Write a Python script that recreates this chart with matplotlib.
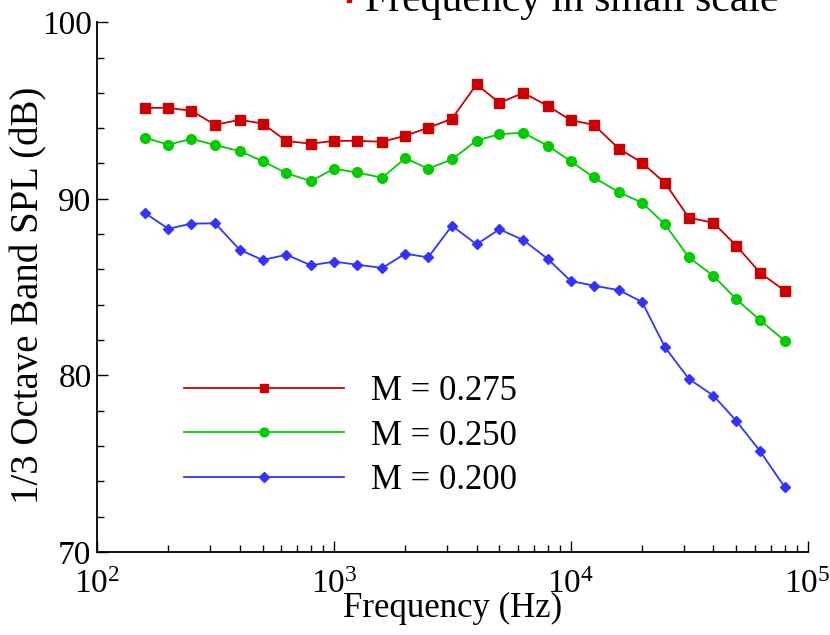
import numpy as np
import matplotlib
matplotlib.use('Agg')
import matplotlib.pyplot as plt
from matplotlib.lines import Line2D
from matplotlib.ticker import LogLocator, MultipleLocator, NullFormatter

plt.rcParams['font.family'] = ['Liberation Serif', 'DejaVu Serif']
plt.rcParams['mathtext.fontset'] = 'custom'
plt.rcParams['mathtext.rm'] = 'Liberation Serif'
plt.rcParams['mathtext.it'] = 'Liberation Serif:italic'

# 1/3-октавные полосы, Гц
freq = [160, 200, 250, 315, 400, 500, 630, 800, 1000, 1250, 1600, 2000, 2500,
        3150, 4000, 5000, 6300, 8000, 10000, 12500, 16000, 20000, 25000,
        31500, 40000, 50000, 63000, 80000]

# Уровни SPL, дБ
spl_m275 = [95.15, 95.15, 94.98, 94.19, 94.47, 94.26, 93.27, 93.12, 93.28,
            93.28, 93.23, 93.57, 94.02, 94.53, 96.48, 95.43, 96.0, 95.26,
            94.45, 94.19, 92.83, 92.04, 90.89, 88.93, 88.64, 87.34, 85.81, 84.79]
spl_m250 = [93.45, 93.06, 93.40, 93.04, 92.70, 92.13, 91.45, 91.00, 91.70,
            91.49, 91.19, 92.30, 91.70, 92.23, 93.30, 93.66, 93.74, 93.00,
            92.13, 91.21, 90.36, 89.78, 88.55, 86.68, 85.64, 84.31, 83.12, 81.96]
spl_m200 = [89.17, 88.30, 88.59, 88.61, 87.11, 86.53, 86.83, 86.23, 86.44,
            86.27, 86.08, 86.89, 86.68, 88.47, 87.42, 88.27, 87.66, 86.59,
            85.34, 85.08, 84.82, 84.15, 81.59, 79.80, 78.85, 77.42, 75.70, 73.67]

fig = plt.figure(figsize=(8.3, 6.35), dpi=100)
ax = fig.add_axes([0.117, 0.131, 0.856, 0.834])

ax.plot(freq, spl_m275, color='#cc0000', lw=1.3, marker='s', ms=6.5,
        label='M = 0.275')
ax.plot(freq, spl_m250, color='#00cc00', lw=1.3, marker='o', ms=7,
        label='M = 0.250')
ax.plot(freq, spl_m200, color='#3333ff', lw=1.3, marker='D', ms=5.5,
        label='M = 0.200')

ax.set_xscale('log')
ax.set_xlim(1e2, 1e5)
ax.set_ylim(70, 100)
ax.xaxis.set_major_locator(LogLocator(base=10, numticks=10))
ax.xaxis.set_minor_locator(LogLocator(base=10, subs=np.arange(2, 10), numticks=10))
ax.xaxis.set_minor_formatter(NullFormatter())
ax.yaxis.set_major_locator(MultipleLocator(10))
ax.yaxis.set_minor_locator(MultipleLocator(2))

for s in ['top', 'right']:
    ax.spines[s].set_visible(False)
for s in ['left', 'bottom']:
    ax.spines[s].set_linewidth(1.3)

ax.tick_params(which='both', direction='in', width=1.0, labelsize=24, pad=4)
ax.tick_params(which='major', length=8)
ax.tick_params(which='minor', length=5)
ax.tick_params(axis='x', pad=13)

ax.set_xlabel('Frequency (Hz)', fontsize=25, labelpad=-6)
ax.set_ylabel('1/3 Octave Band SPL (dB)', fontsize=28)
ax.yaxis.set_label_coords(-0.07, 0.485)

ax.legend(loc='upper left', bbox_to_anchor=(0.122, 0.333), frameon=False,
          fontsize=25, handlelength=4.6, handletextpad=0.8, labelspacing=0.32,
          numpoints=1, borderpad=0, borderaxespad=0, markerscale=0.9)

# подпись сверху (обрезана краем)
fig.add_artist(Line2D([0.420], [1.0], marker='s', ms=3.5, color='#cc0000',
                      transform=fig.transFigure))
fig.text(0.440, 0.983, 'Frequency in small scale', fontsize=30,
         va='baseline', ha='left')

plt.savefig('out.png', dpi=100)
